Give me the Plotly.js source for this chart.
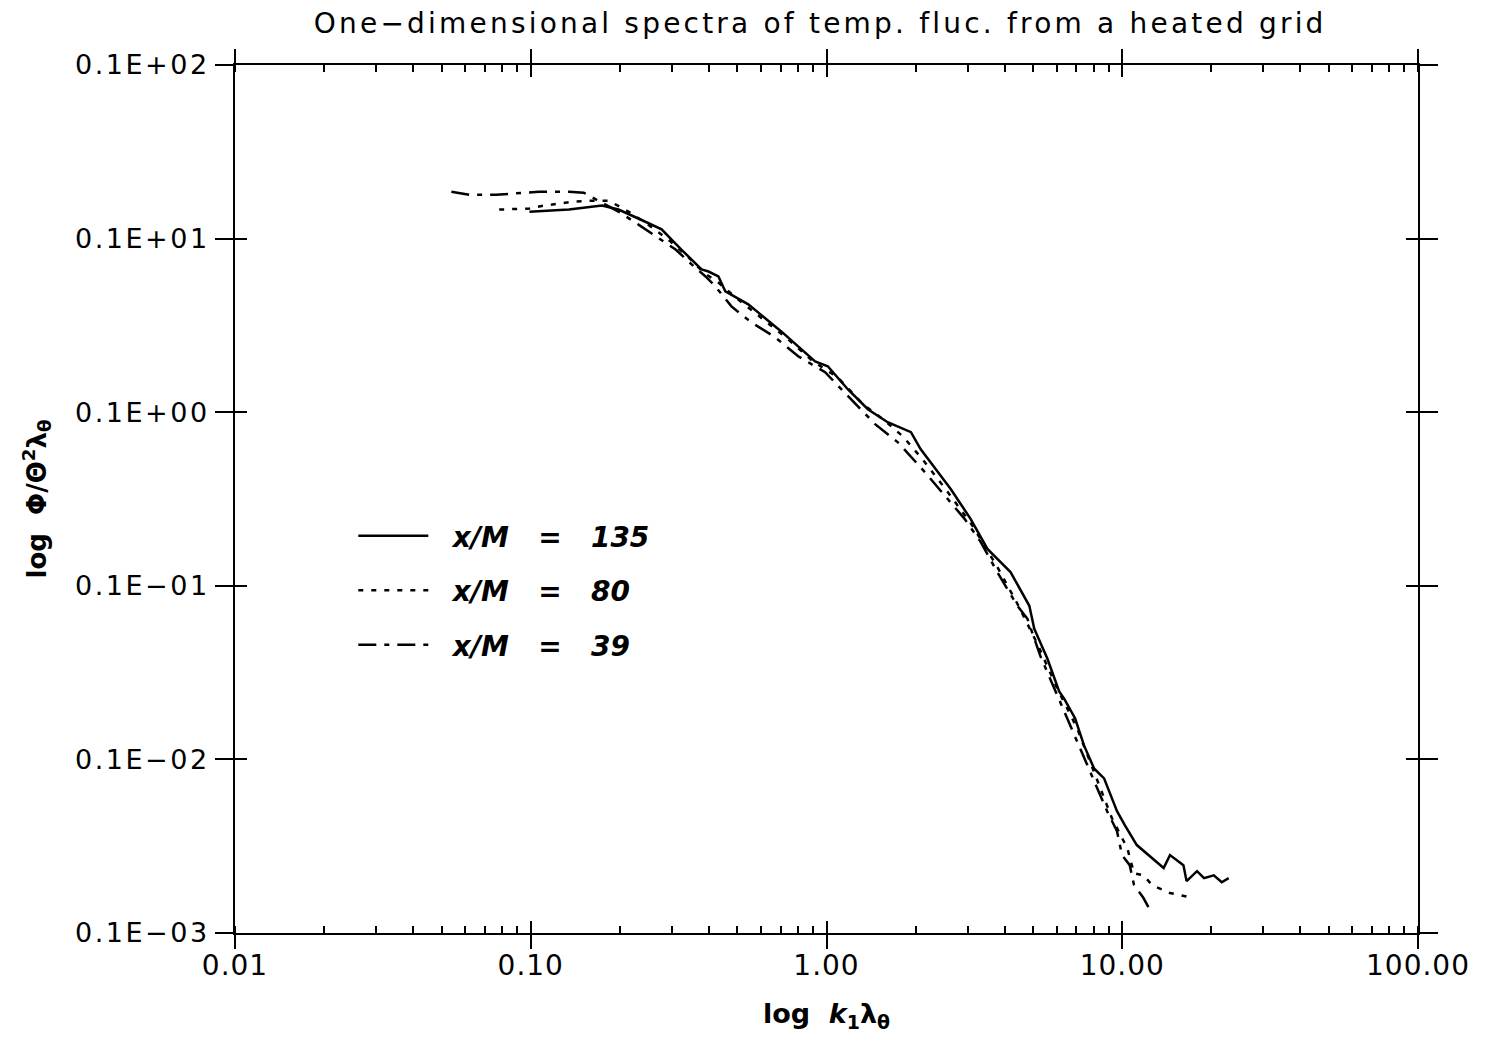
<!DOCTYPE html>
<html>
<head>
<meta charset="utf-8">
<script src="https://cdn.plot.ly/plotly-3.0.1.min.js"></script>
<style>
html,body{margin:0;padding:0;background:#fff;}
#chart{width:1494px;height:1043px;}
#chart .gtitle{letter-spacing:3.2px;}
#chart .ytick text{letter-spacing:2.5px;}
#chart .xtick text{letter-spacing:1px;}
</style>
</head>
<body>
<div id="chart"></div>
<script>
// k1*lambda_theta (x) and Phi/(Theta^2 lambda_theta) (y)
var k135 = [0.099, 0.1346, 0.174, 0.198, 0.237, 0.277, 0.323, 0.378, 0.399, 0.431, 0.455, 0.544, 0.703, 0.915, 1.01, 1.18, 1.38, 1.61, 1.93, 2.08, 2.63, 3.07, 3.50, 4.19, 4.85, 5.04, 5.58, 6.12, 6.36, 6.93, 7.43, 8.03, 8.68, 9.60, 10.2, 11.2, 13.8, 14.5, 16.1, 16.5, 17.9, 18.9, 20.4, 21.7, 22.9];
var p135 = [1.43, 1.47, 1.55, 1.47, 1.28, 1.13, 0.865, 0.664, 0.646, 0.605, 0.496, 0.418, 0.292, 0.196, 0.184, 0.1356, 0.104, 0.0876, 0.0767, 0.0613, 0.0361, 0.0243, 0.0163, 0.0120, 0.00767, 0.00566, 0.00381, 0.00246, 0.00224, 0.00172, 0.00120, 0.000887, 0.000778, 0.000503, 0.000418, 0.000321, 0.000237, 0.000281, 0.000246, 0.000199, 0.000227, 0.000207, 0.000215, 0.000196, 0.000207];

var k80 = [0.0782, 0.099, 0.111, 0.138, 0.157, 0.184, 0.214, 0.250, 0.292, 0.342, 0.384, 0.431, 0.503, 0.611, 0.742, 0.901, 1.09, 1.33, 1.55, 1.81, 2.11, 2.57, 3.12, 3.78, 4.42, 5.16, 6.03, 7.04, 8.22, 9.23, 10.4, 10.96, 11.8, 12.6, 14.5, 17.4];
var p80 = [1.47, 1.49, 1.55, 1.63, 1.65, 1.65, 1.43, 1.20, 0.987, 0.778, 0.638, 0.558, 0.446, 0.342, 0.263, 0.196, 0.159, 0.111, 0.0912, 0.0727, 0.0537, 0.0347, 0.0221, 0.01285, 0.00788, 0.00464, 0.00256, 0.00151, 0.000757, 0.000458, 0.000308, 0.000221, 0.000215, 0.000189, 0.000170, 0.000159];

var k39 = [0.0539, 0.0619, 0.0764, 0.1066, 0.1346, 0.151, 0.174, 0.198, 0.232, 0.264, 0.309, 0.350, 0.390, 0.421, 0.477, 0.557, 0.671, 0.802, 0.989, 1.15, 1.46, 1.74, 2.15, 2.57, 2.93, 3.32, 3.78, 4.42, 4.78, 5.28, 6.51, 7.78, 8.89, 9.60, 9.98, 10.6, 10.96, 11.8, 12.4];
var p39 = [1.86, 1.79, 1.79, 1.86, 1.86, 1.84, 1.61, 1.43, 1.20, 1.03, 0.865, 0.710, 0.605, 0.530, 0.407, 0.329, 0.270, 0.210, 0.170, 0.130, 0.0853, 0.0673, 0.0452, 0.0316, 0.0243, 0.0179, 0.0120, 0.00767, 0.00646, 0.00396, 0.00172, 0.000853, 0.000503, 0.000386, 0.000281, 0.000246, 0.000189, 0.000159, 0.000136];

var seriesNames = ['\u00a0\u00a0x/M\u00a0\u00a0\u00a0=\u00a0\u00a0\u00a0135', '\u00a0\u00a0x/M\u00a0\u00a0\u00a0=\u00a0\u00a0\u00a080', '\u00a0\u00a0x/M\u00a0\u00a0\u00a0=\u00a0\u00a0\u00a039'];
var xTickVals = [0.01, 0.1, 1, 10, 100];
var xTickText = ['0.01', '0.10', '1.00', '10.00', '100.00'];
var yTickVals = [0.0001, 0.001, 0.01, 0.1, 1, 10];
var yTickText = ['0.1E\u221203', '0.1E\u221202', '0.1E\u221201', '0.1E+00', '0.1E+01', '0.1E+02'];

var FONT = 'DejaVu Sans, sans-serif';

var traces = [
  {x: k135, y: p135, name: seriesNames[0], mode: 'lines', legendgroup: 'a',
   line: {color: '#000', width: 2.5, dash: 'solid'}},
  {x: k80, y: p80, name: seriesNames[1], mode: 'lines', legendgroup: 'b',
   line: {color: '#000', width: 2.5, dash: '5px,8px'}},
  {x: k39, y: p39, name: seriesNames[2], mode: 'lines', legendgroup: 'c',
   line: {color: '#000', width: 2.5, dash: '18px,8px,5px,8px'}},
  {x: [], y: [], xaxis: 'x2', yaxis: 'y2', showlegend: false, hoverinfo: 'skip', mode: 'lines'}
];

var axisCommon = {type: 'log', showgrid: false, zeroline: false, showline: true,
  linecolor: '#000', linewidth: 2, tickcolor: '#000', tickwidth: 2, mirror: 'allticks'};

var layout = {
  width: 1494, height: 1043,
  paper_bgcolor: '#fff', plot_bgcolor: '#fff',
  margin: {l: 235, r: 76, t: 65, b: 110},
  font: {family: FONT, color: '#000', size: 26},
  title: {text: 'One\u2212dimensional spectra of temp. fluc. from a heated grid',
          font: {family: FONT, size: 28, color: '#000'},
          x: 0.549, xanchor: 'center', y: 0.978, yanchor: 'middle'},
  xaxis: Object.assign({}, axisCommon, {
    range: [-2, 2], tickvals: xTickVals, ticktext: xTickText,
    ticks: 'outside', ticklen: 14, ticklabelstandoff: -8,
    tickfont: {family: FONT, size: 28, color: '#000'},
    minor: {dtick: 'D1', ticks: 'inside', ticklen: 7, tickwidth: 2, tickcolor: '#000', showgrid: false},
    title: {text: '<b>log  <i>k</i><sub>1</sub>\u03bb<sub>\u03b8</sub></b>',
            font: {family: FONT, size: 27, color: '#000'}, standoff: 24}
  }),
  yaxis: Object.assign({}, axisCommon, {
    range: [-4, 1], tickvals: yTickVals, ticktext: yTickText,
    ticks: 'outside', ticklen: 18,
    tickfont: {family: FONT, size: 27, color: '#000'},
    title: {text: '<b>log  \u03a6/\u0398<sup>2</sup>\u03bb<sub>\u03b8</sub></b>',
            font: {family: FONT, size: 26, color: '#000'}, standoff: 39}
  }),
  xaxis2: Object.assign({}, axisCommon, {
    range: [-2, 2], overlaying: 'x', anchor: 'y2', tickvals: xTickVals,
    showticklabels: false, ticks: 'inside', ticklen: 12
  }),
  yaxis2: Object.assign({}, axisCommon, {
    range: [-4, 1], overlaying: 'y', anchor: 'x2', tickvals: yTickVals,
    showticklabels: false, ticks: 'inside', ticklen: 12
  }),
  showlegend: true,
  legend: {x: 0.10, xanchor: 'left', y: 0.486, yanchor: 'top',
    bgcolor: 'rgba(0,0,0,0)', borderwidth: 0,
    traceorder: 'grouped', tracegroupgap: 15, itemwidth: 70,
    font: {family: FONT, size: 28, color: '#000', style: 'italic', weight: 'bold'}}
};

Plotly.newPlot('chart', traces, layout, {displayModeBar: false, staticPlot: true});
</script>
</body>
</html>
